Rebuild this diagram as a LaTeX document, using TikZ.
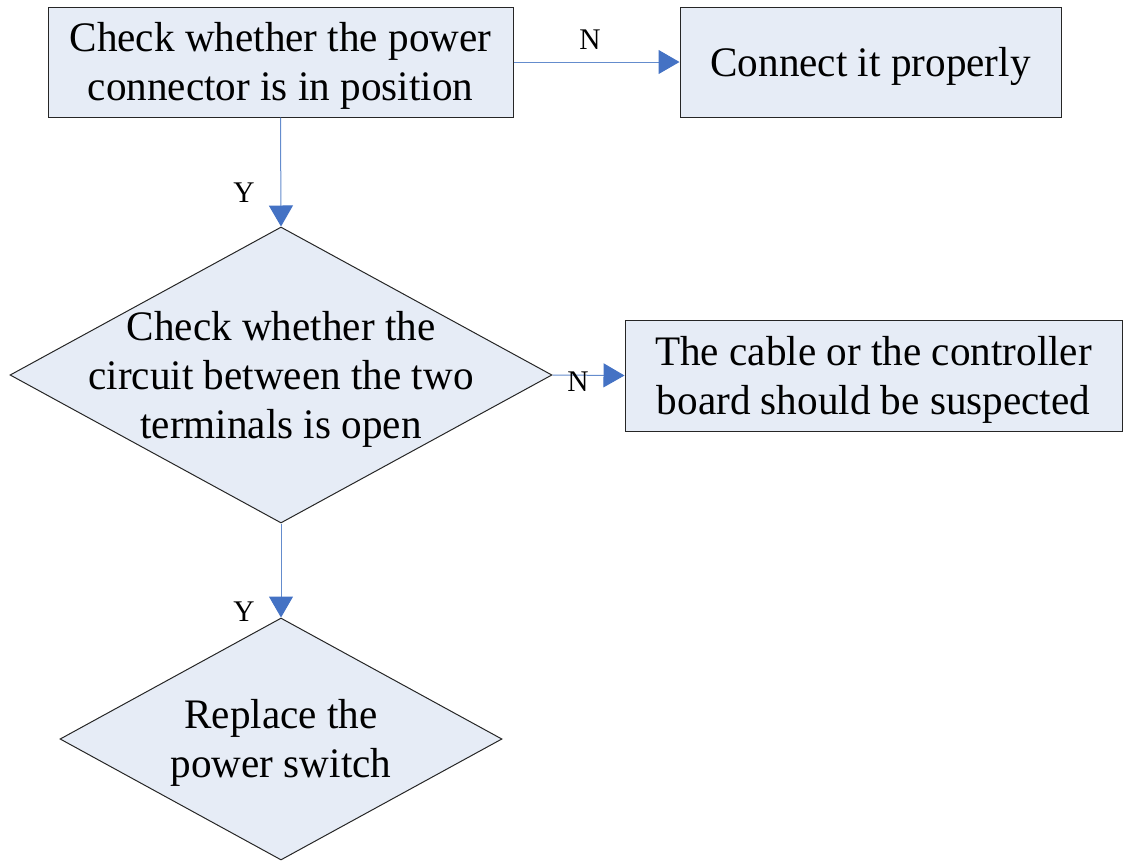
\documentclass[tikz,border=0pt]{standalone}
\usepackage{fontspec}
\setmainfont[FakeStretch=0.98]{Liberation Serif}
\usetikzlibrary{arrows.meta,shapes.geometric}
\definecolor{boxfill}{RGB}{230,236,246}
\definecolor{conn}{RGB}{68,114,196}
\definecolor{connline}{RGB}{100,140,205}
\begin{document}
\begin{tikzpicture}[x=1pt,y=-1pt,
  box/.style={draw=black!85,line width=1pt,fill=boxfill,rectangle,inner sep=0pt},
  dia/.style={draw=black!85,line width=1pt,fill=boxfill,diamond,inner sep=0pt},
  txt/.style={align=center,inner sep=0pt,yshift=-4pt,font=\fontsize{42}{49}\selectfont},
  flow/.style={draw=connline,line width=1pt,-{Triangle[length=21pt,width=24pt,fill=conn,color=conn]}},
  lab/.style={inner sep=0pt,font=\fontsize{30}{32}\selectfont}]
\useasboundingbox (0,0) rectangle (1123,860);
\node[box,minimum width=465pt,minimum height=110pt] (b1) at (280.5,62) {};
\node[txt] (tb1) at (b1.center) {Check whether the power\\connector is in position};
\node[box,minimum width=381pt,minimum height=110pt] (b2) at (870.5,62) {};
\node[txt] (tb2) at (b2.center) {Connect it properly};
\node[dia,minimum width=542pt,minimum height=296pt] (d1) at (281,375) {};
\node[txt] (t1) at (d1.center) {Check whether the\\circuit between the two\\terminals is open};
\node[box,minimum width=497pt,minimum height=111pt] (b3) at (873.5,375.5) {};
\node[txt] (tb3) at (b3.center) {The cable or the controller\\board should be suspected};
\node[dia,minimum width=442pt,minimum height=242pt] (d2) at (281,739) {};
\node[txt] (t2) at (d2.center) {Replace the\\power switch};
\draw[flow] (b1.east) -- (b2.west);
\draw[flow] (b1.south) -- (d1.north);
\draw[flow] (d1.east) -- (b3.west);
\draw[flow] (d1.south) -- (d2.north);
\node[lab] (n1) at (590,40) {N};
\node[lab] (y1) at (244,193) {Y};
\node[lab] (n2) at (578,382) {N};
\node[lab] (y2) at (244,612) {Y};
\end{tikzpicture}
\end{document}
